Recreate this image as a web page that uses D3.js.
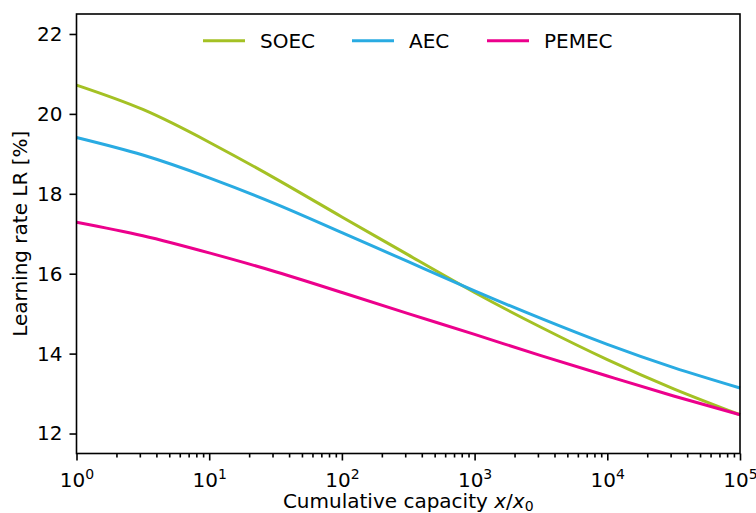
<!DOCTYPE html>
<html>
<head>
<meta charset="utf-8">
<script src="https://cdn.jsdelivr.net/npm/d3@7"></script>
<style>
  body { margin: 0; background: #fff; }
  svg text { font-family: "DejaVu Sans", sans-serif; fill: #000; }
</style>
</head>
<body>
<svg id="chart" width="756" height="513"></svg>
<script>
// cumulative capacity x/x0, sampled every half decade
var capacity = [1, 3.162, 10, 31.62, 100, 316.2, 1000, 3162, 10000, 31623, 100000];
var soec  = [20.72, 20.11, 19.29, 18.38, 17.42, 16.47, 15.53, 14.66, 13.85, 13.12, 12.47];
var aec   = [19.41, 18.97, 18.40, 17.75, 17.03, 16.30, 15.57, 14.88, 14.23, 13.65, 13.14];
var pemec = [17.29, 16.95, 16.52, 16.05, 15.53, 15.00, 14.48, 13.95, 13.44, 12.94, 12.47];

var seriesNames  = ['SOEC', 'AEC', 'PEMEC'];
var seriesColors = ['#a4c124', '#29abe2', '#ec008c'];
var xTicks = [1, 10, 100, 1000, 10000, 100000];
var yTicks = [12, 14, 16, 18, 20, 22];

var
  margin = {top: 14, right: 16, bottom: 59.5, left: 76.5},
  width = 756 - margin.left - margin.right,
  height = 513 - margin.top - margin.bottom,
  svg = d3.select('#chart'),
  g = svg.append('g').attr('transform', 'translate(' + margin.left + ',' + margin.top + ')')
  ;

var xScale = d3.scaleLog().domain([1, 100000]).range([0, width]);
var yScale = d3.scaleLinear().domain([11.5, 22.5]).range([height, 0]);

var series = [soec, aec, pemec].map(function(vals, i) {
  return {
    id: seriesNames[i],
    color: seriesColors[i],
    values: vals.map(function(v, k) { return {x: capacity[k], y: v}; })
  };
});

// minor ticks 2..9 in every decade
var minorTicks = [];
xTicks.slice(0, -1).forEach(function(d) {
  for (var m = 2; m < 10; m++) minorTicks.push(d * m);
});

g.append('g')
  .attr('class', 'axis axis--x-minor')
  .attr('transform', 'translate(0,' + height + ')')
  .call(d3.axisBottom(xScale).tickValues(minorTicks).tickSize(4).tickSizeOuter(0).tickFormat(''))
  .call(function(a) { a.select('.domain').remove(); });

var xAxis = g.append('g')
  .attr('class', 'axis axis--x')
  .attr('transform', 'translate(0,' + height + ')')
  .call(d3.axisBottom(xScale).tickValues(xTicks).tickSize(7).tickPadding(7).tickSizeOuter(0).tickFormat(''));

xAxis.selectAll('.tick text')
  .attr('font-size', 20)
  .attr('dy', '0.95em')
  .each(function(d) {
    var t = d3.select(this);
    t.append('tspan').text('10');
    t.append('tspan')
      .attr('font-size', 14)
      .attr('dy', -8)
      .text(Math.round(Math.log10(d)));
  });

g.append('g')
  .attr('class', 'axis axis--y')
  .call(d3.axisLeft(yScale).tickValues(yTicks).tickSize(7).tickPadding(7).tickSizeOuter(0))
  .call(function(a) { a.selectAll('.tick text').attr('font-size', 20); });

g.selectAll('.axis line').attr('stroke', '#000').attr('stroke-width', 1.6);
g.selectAll('.axis .domain').remove();

var line = d3.line()
  .curve(d3.curveNatural)
  .x(function(d) { return xScale(d.x); })
  .y(function(d) { return yScale(d.y); });

g.selectAll('.lines')
  .data(series)
  .enter().append('path')
  .attr('class', function(d) { return 'line ' + d.id; })
  .attr('d', function(d) { return line(d.values); })
  .attr('fill', 'none')
  .attr('stroke', function(d) { return d.color; })
  .attr('stroke-width', 3);

// frame
g.append('rect')
  .attr('width', width)
  .attr('height', height)
  .attr('fill', 'none')
  .attr('stroke', '#000')
  .attr('stroke-width', 1.6);

// legend
var legendX = [126.5, 275.5, 410.5];
var legend = g.selectAll('.legend')
  .data(series)
  .enter().append('g')
  .attr('class', 'legend')
  .attr('transform', function(d, i) { return 'translate(' + legendX[i] + ',26.7)'; });

legend.append('line')
  .attr('x1', 0).attr('x2', 42)
  .attr('stroke', function(d) { return d.color; })
  .attr('stroke-width', 3);

legend.append('text')
  .attr('x', 57)
  .attr('dy', '0.36em')
  .attr('font-size', 20)
  .text(function(d) { return d.id; });

// axis labels
var xl = svg.append('text')
  .attr('x', margin.left + width / 2)
  .attr('y', 508)
  .attr('text-anchor', 'middle')
  .attr('font-size', 20);
xl.append('tspan').text('Cumulative capacity ');
xl.append('tspan').attr('font-style', 'italic').text('x');
xl.append('tspan').text('/');
xl.append('tspan').attr('font-style', 'italic').text('x');
xl.append('tspan').attr('font-size', 14).attr('dy', 3).text('0');

svg.append('text')
  .attr('transform', 'translate(27,' + (margin.top + height / 2) + ') rotate(-90)')
  .attr('text-anchor', 'middle')
  .attr('font-size', 20)
  .text('Learning rate LR [%]');
</script>
</body>
</html>
